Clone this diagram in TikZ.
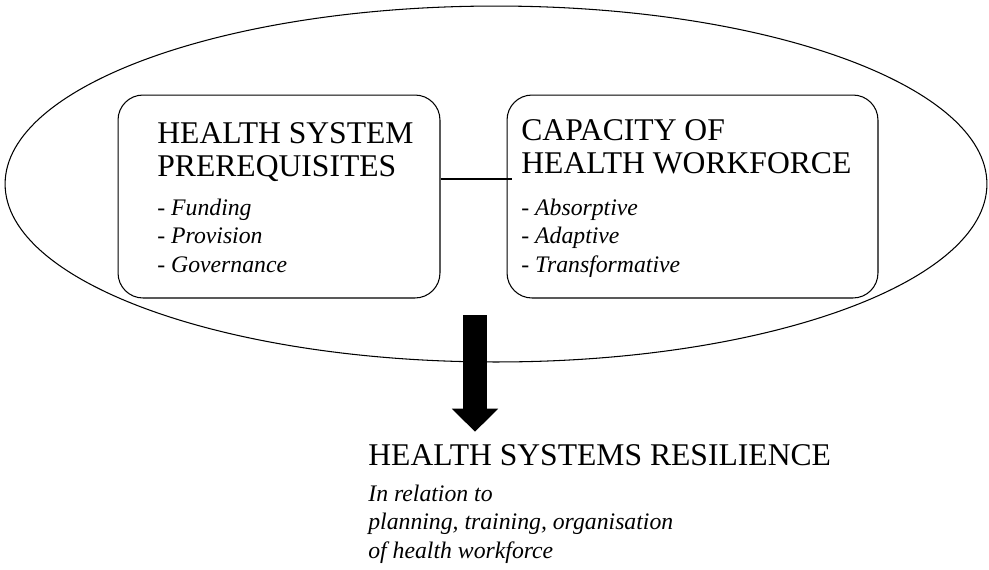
\documentclass[tikz,border=0pt]{standalone}
\usepackage{fontspec}
\setmainfont{Liberation Serif}
\usetikzlibrary{shapes.geometric,arrows.meta,calc}

\begin{document}
\begin{tikzpicture}[x=0.02cm, y=-0.02cm]
    \tikzset{round box/.style={draw, line width=0.6pt, rounded corners=0.5cm, minimum height=4.06cm},
        head text/.style={anchor=north west, inner sep=0, align=left, font=\fontsize{18}{18.8}\selectfont},
        item text/.style={anchor=north west, inner sep=0, align=left, font=\fontsize{13.5}{16}\selectfont},
        block arrow/.style={line width=0.48cm, -{Triangle[width=0.9cm, length=0.46cm]}}}
    % \draw[help lines] (0, 0) grid[step=50] (989, 569);
    \useasboundingbox (0, 0) rectangle (989, 569);
    \node [draw, ellipse, line width=0.6pt, minimum width=19.64cm, minimum height=7.12cm] (outer) at (496, 184) {};
    \node [round box, minimum width=6.44cm] (prereq) at (279, 196.5) {};
    \node [round box, minimum width=7.42cm] (capacity) at (692.5, 196.5) {};
    \node [head text] (prereq head) at (157, 122) {HEALTH SYSTEM\\PREREQUISITES};
    \node [item text] (prereq items) at (157, 199) {- \textit{Funding}\\- \textit{Provision}\\- \textit{Governance}};
    \node [head text] (capacity head) at (521, 119) {CAPACITY OF\\HEALTH WORKFORCE};
    \node [item text] (capacity items) at (521, 199) {- \textit{Absorptive}\\- \textit{Adaptive}\\- \textit{Transformative}};
    \node [head text, anchor=base west] (resil) at (368, 465) {HEALTH SYSTEMS RESILIENCE};
    \node [item text, font=\fontsize{13.5}{16}\selectfont\itshape] (resil items) at (368, 485)
        {In relation to\\planning, training, organisation\\of health workforce};
    \draw [line width=0.6pt] ([yshift=0.35cm]prereq.east) -- ([xshift=0.1cm, yshift=0.35cm]capacity.west);
    \coordinate (arrow top) at (475, 315);
    \draw [block arrow] (arrow top) -- ($(arrow top |- resil.north)+(0, -12)$);
\end{tikzpicture}
\end{document}
